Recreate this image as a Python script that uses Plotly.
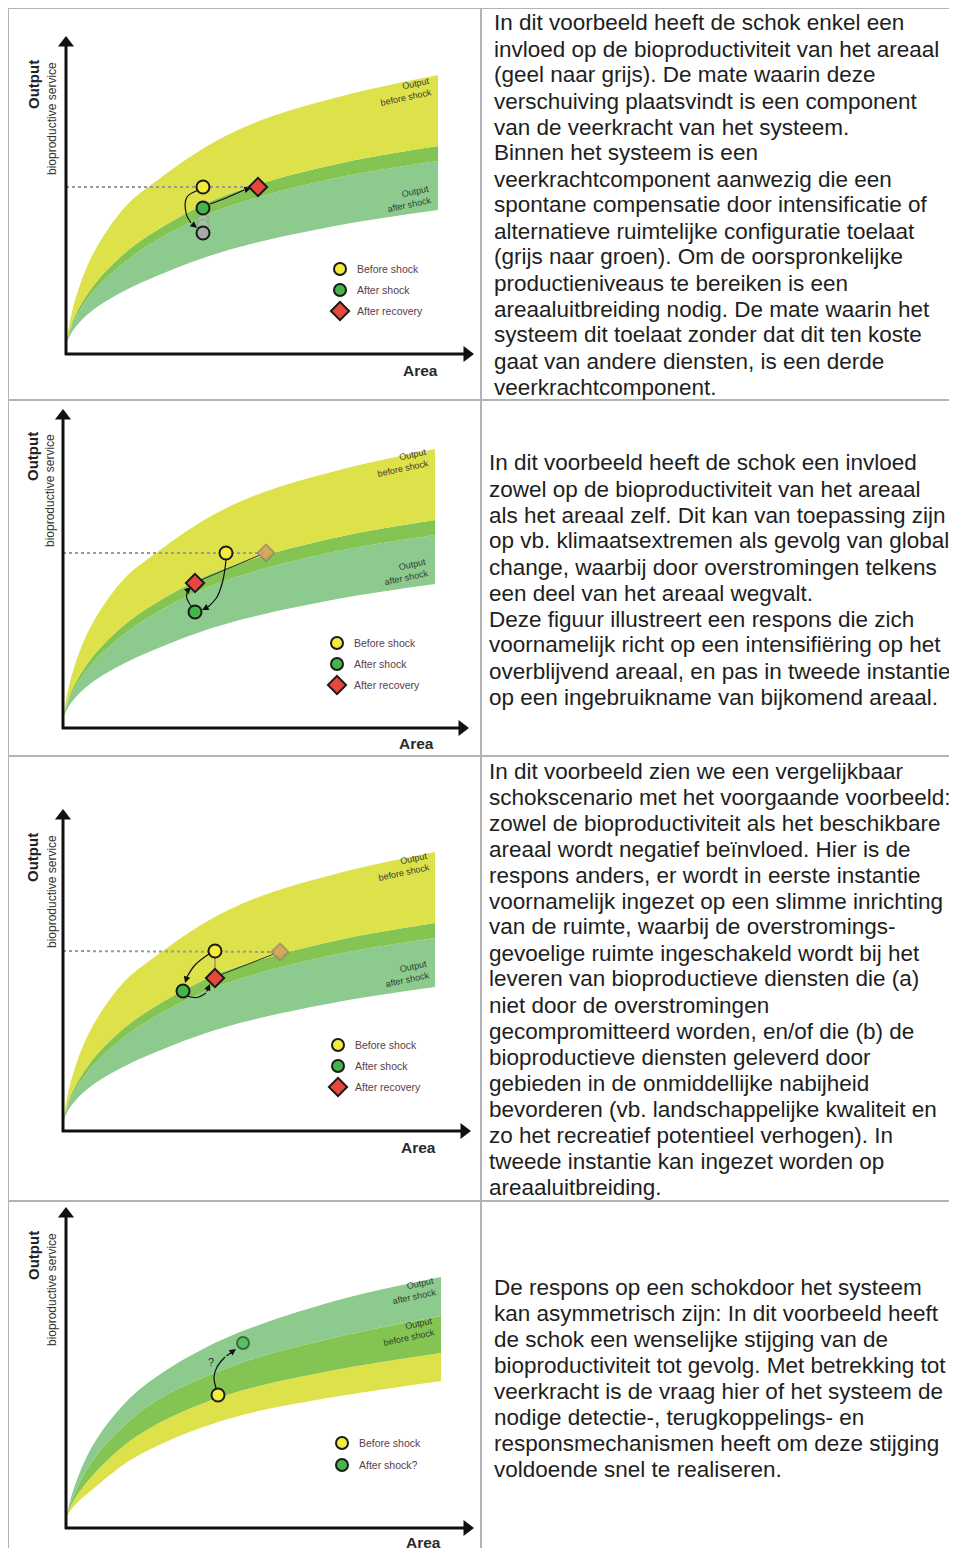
import plotly.graph_objects as go

# page is 957x1548; the html body has an 8px margin, so the figure is drawn
# 8px in from the top-left corner and page pixels are shifted by OFF.
PAGE_W, PAGE_H = 957, 1548
OFF = 8
FW, FH = PAGE_W - OFF, PAGE_H - OFF

# ---------------- data (pixel-like units: Area right of y-axis, Output above x-axis)
AREA_A = [0, 8, 27, 60, 93, 143, 193, 280, 372]          # panels 1-3
A_YELLOW_TOP = [10, 50, 100, 148, 175, 209, 233, 259, 279]
A_YELLOW_BOTTOM = [10, 36, 68, 102, 125, 152, 170, 192, 208]
A_LGREEN_TOP = [10, 33, 62, 93, 115, 140, 157, 178, 193]
A_LGREEN_BOTTOM = [10, 25, 44, 64, 79, 98, 112, 130, 144]

AREA_B = [0, 8, 27, 60, 93, 143, 193, 280, 375]          # panel 4
B_LGREEN_TOP = [10, 40, 83, 126, 153, 182, 203, 230, 251]
B_DGREEN_TOP = [10, 33, 68, 104, 129, 153, 171, 193, 212]
B_YELLOW_TOP = [10, 28, 53, 84, 105, 127, 142, 160, 175]
B_YELLOW_BOTTOM = [10, 22, 39, 65, 83, 103, 117, 133, 147]

# states (Area, Output)
P1_BEFORE, P1_AFTER, P1_GREY, P1_RECOVERY = (137, 167), (137, 146), (137, 121), (192, 167)
P2_BEFORE, P2_AFTER, P2_RECOVERY, P2_TARGET = (163, 175), (132, 116), (132, 145), (203, 175)
P3_BEFORE, P3_AFTER, P3_RECOVERY, P3_TARGET = (152, 180), (120, 140), (152, 153), (217, 179)
P4_BEFORE, P4_AFTER = (152, 133), (177, 185)

LEGEND_3 = ["Before shock", "After shock", "After recovery"]
LEGEND_2 = ["Before shock", "After shock?"]

TEXT_1 = [
    "In dit voorbeeld heeft de schok enkel een",
    "invloed op de bioproductiviteit van het areaal",
    "(geel naar grijs). De mate waarin deze",
    "verschuiving plaatsvindt is een component",
    "van de veerkracht van het systeem.",
    "Binnen het systeem is een",
    "veerkrachtcomponent aanwezig die een",
    "spontane compensatie door intensificatie of",
    "alternatieve ruimtelijke configuratie toelaat",
    "(grijs naar groen). Om de oorspronkelijke",
    "productieniveaus te bereiken is een",
    "areaaluitbreiding nodig. De mate waarin het",
    "systeem dit toelaat zonder dat dit ten koste",
    "gaat van andere diensten, is een derde",
    "veerkrachtcomponent.",
]
TEXT_2 = [
    "In dit voorbeeld heeft de schok een invloed",
    "zowel op de bioproductiviteit van het areaal",
    "als het areaal zelf. Dit kan van toepassing zijn",
    "op vb. klimaatsextremen als gevolg van global",
    "change, waarbij door overstromingen telkens",
    "een deel van het areaal wegvalt.",
    "Deze figuur illustreert een respons die zich",
    "voornamelijk richt op een intensifiëring op het",
    "overblijvend areaal, en pas in tweede instantie",
    "op een ingebruikname van bijkomend areaal.",
]
TEXT_3 = [
    "In dit voorbeeld zien we een vergelijkbaar",
    "schokscenario met het voorgaande voorbeeld:",
    "zowel de bioproductiviteit als het beschikbare",
    "areaal wordt negatief beïnvloed. Hier is de",
    "respons anders, er wordt in eerste instantie",
    "voornamelijk ingezet op een slimme inrichting",
    "van de ruimte, waarbij de overstromings-",
    "gevoelige ruimte ingeschakeld wordt bij het",
    "leveren van bioproductieve diensten die (a)",
    "niet door de overstromingen",
    "gecompromitteerd worden, en/of die (b) de",
    "bioproductieve diensten geleverd door",
    "gebieden in de onmiddellijke nabijheid",
    "bevorderen (vb. landschappelijke kwaliteit en",
    "zo het recreatief potentieel verhogen). In",
    "tweede instantie kan ingezet worden op",
    "areaaluitbreiding.",
]
TEXT_4 = [
    "De respons op een schokdoor het systeem",
    "kan asymmetrisch zijn: In dit voorbeeld heeft",
    "de schok een wenselijke stijging van de",
    "bioproductiviteit tot gevolg. Met betrekking tot",
    "veerkracht is de vraag hier of het systeem de",
    "nodige detectie-, terugkoppelings- en",
    "responsmechanismen heeft om deze stijging",
    "voldoende snel te realiseren.",
]

# ---------------- layout geometry (page pixels)
ORIGIN_X = [66, 63, 63, 66]
ORIGIN_Y = [354, 728, 1131, 1528]
CELL_TOP = [9, 401, 757, 1202]
CELL_BOTTOM = [399, 755, 1200, 1548]
Y_TIP = [317, 318, 321, 320]
X_TIP = [407, 405, 407, 407]
TEXT_X = [494, 489, 489, 494]
TEXT_FIRST = [23, 463, 771, 1287]
LINE_H = 26


def px(x):
    return (x - OFF) / FW


def py(y):
    return 1 - (y - OFF) / FH


YELLOW = "#dde24b"
DGREEN = "#84c452"
LGREEN = "#8cca8e"
FONT = "Liberation Sans, Arial, sans-serif"

fig = go.Figure()
annotations = []
shapes = []


def ax_names(i):
    n = "" if i == 0 else str(i + 1)
    return "x" + n, "y" + n


def band_traces(i, xs, boundaries):
    xa, ya = ax_names(i)
    first = True
    for ys, col in boundaries:
        fig.add_trace(go.Scatter(
            x=xs, y=ys, xaxis=xa, yaxis=ya, mode="lines",
            line=dict(width=0, shape="spline", smoothing=1.0),
            fill=None if first else "tonexty", fillcolor=col,
            hoverinfo="skip", showlegend=False))
        first = False


def path(i, pts, color="#111", width=1.2, head=True, dash=None):
    xa, ya = ax_names(i)
    body = pts[:-1] if head else pts
    fig.add_trace(go.Scatter(
        x=[p[0] for p in body], y=[p[1] for p in body],
        xaxis=xa, yaxis=ya, mode="lines",
        line=dict(color=color, width=width, shape="spline", dash=dash),
        hoverinfo="skip", showlegend=False))
    if head:
        annotations.append(dict(
            x=pts[-1][0], y=pts[-1][1], ax=pts[-2][0], ay=pts[-2][1],
            xref=xa, yref=ya, axref=xa, ayref=ya, text="", showarrow=True,
            arrowhead=2, arrowsize=1.1, arrowwidth=width, arrowcolor=color))


def markers(i, pts, symbol, fill, line="#1a1a1a", size=13, opacity=1.0):
    xa, ya = ax_names(i)
    fig.add_trace(go.Scatter(
        x=[p[0] for p in pts], y=[p[1] for p in pts], xaxis=xa, yaxis=ya,
        mode="markers", opacity=opacity,
        marker=dict(symbol=symbol, size=size, color=fill, line=dict(color=line, width=2)),
        hoverinfo="skip", showlegend=False))


def text(i, x, y, s, size, color="#222", angle=0, xanchor="center", align="center"):
    xa, ya = ax_names(i)
    annotations.append(dict(x=x, y=y, xref=xa, yref=ya, text=s, showarrow=False,
                            font=dict(family=FONT, size=size, color=color),
                            textangle=angle, xanchor=xanchor, yanchor="middle", align=align))


def axes_arrows(i):
    xa, ya = ax_names(i)
    fig.add_trace(go.Scatter(x=[0, 0], y=[-1, Y_TIP[i] - 8], xaxis=xa, yaxis=ya, mode="lines",
                             line=dict(color="#111", width=3), hoverinfo="skip", showlegend=False))
    fig.add_trace(go.Scatter(x=[-1, X_TIP[i] - 8], y=[0, 0], xaxis=xa, yaxis=ya, mode="lines",
                             line=dict(color="#111", width=3), hoverinfo="skip", showlegend=False))
    fig.add_trace(go.Scatter(x=[0], y=[Y_TIP[i] - 6], xaxis=xa, yaxis=ya, mode="markers",
                             marker=dict(symbol="triangle-up", size=14, color="#111"),
                             hoverinfo="skip", showlegend=False))
    fig.add_trace(go.Scatter(x=[X_TIP[i] - 6], y=[0], xaxis=xa, yaxis=ya, mode="markers",
                             marker=dict(symbol="triangle-right", size=14, color="#111"),
                             hoverinfo="skip", showlegend=False))


OUT_Y = [269, 271, 273, 272]
OUT_X = [-33, -31, -31, -33]
BIO_Y = [235, 237, 239, 238]
BIO_X = [-14, -13, -11, -14]
AREA_LBL = [(354, -16), (353, -15), (355, -16), (357, -14)]


def common(i):
    axes_arrows(i)
    text(i, OUT_X[i], OUT_Y[i], "<b>Output</b>", 15, "#222", -90)
    text(i, BIO_X[i], BIO_Y[i], "bioproductive service", 12, "#333", -90)
    text(i, AREA_LBL[i][0], AREA_LBL[i][1], "<b>Area</b>", 15.5, "#2a2a2a")


def legend(i, labels, x, ys):
    syms = [("circle", "#f4ec3c"), ("circle", "#45b44a"), ("diamond", "#e8483b")]
    for k, lab in enumerate(labels):
        markers(i, [(x, ys[k])], syms[k][0], syms[k][1], size=12 if syms[k][0] == "circle" else 14)
        text(i, x + 15, ys[k], lab, 10.5, "#5a3d4a", xanchor="left", align="left")


LBL_SIZE = 9

# ---------- panel 1
band_traces(0, AREA_A, [(A_LGREEN_BOTTOM, None), (A_LGREEN_TOP, LGREEN),
                        (A_YELLOW_BOTTOM, DGREEN), (A_YELLOW_TOP, YELLOW)])
path(0, [(0, P1_BEFORE[1]), P1_RECOVERY], color="#9a9a9a", width=2, head=False, dash="dot")
path(0, [(133, 164), (121, 157), (120, 141), (125, 131), (131, 126)])
path(0, [(144, 150), (160, 156), (178, 164), (185, 166)])
markers(0, [(137, 134), (137, 129)], "circle", "#bdbdbd", line="#999", size=11, opacity=0.5)
markers(0, [P1_GREY], "circle", "#a9a9a9")
markers(0, [P1_AFTER], "circle", "#45b44a")
markers(0, [P1_BEFORE], "circle", "#f4ec3c")
markers(0, [P1_RECOVERY], "diamond", "#e8483b", size=14)
text(0, 369, 262, "Output<br>before shock", LBL_SIZE, "#3b3b2b", -12, "right", "right")
text(0, 369, 155, "Output<br>after shock", LBL_SIZE, "#2f3f2f", -12, "right", "right")
legend(0, LEGEND_3, 274, [85, 64, 43])
common(0)

# ---------- panel 2
band_traces(1, AREA_A, [(A_LGREEN_BOTTOM, None), (A_LGREEN_TOP, LGREEN),
                        (A_YELLOW_BOTTOM, DGREEN), (A_YELLOW_TOP, YELLOW)])
path(1, [(0, P2_BEFORE[1]), P2_TARGET], color="#9a9a9a", width=2, head=False, dash="dot")
path(1, [(138, 148), (197, 173)], color="#333", width=1, head=False)
path(1, [(163, 168), (160, 148), (154, 131), (145, 121), (139, 118)])
path(1, [(128, 122), (123.5, 131), (125, 138), (128, 141)])
markers(1, [P2_TARGET], "diamond", "#d9a158", line="#9a8a70", size=13, opacity=0.85)
markers(1, [P2_AFTER], "circle", "#45b44a")
markers(1, [P2_RECOVERY], "diamond", "#e8483b", size=14)
markers(1, [P2_BEFORE], "circle", "#f4ec3c")
text(1, 369, 265, "Output<br>before shock", LBL_SIZE, "#3b3b2b", -12, "right", "right")
text(1, 369, 156, "Output<br>after shock", LBL_SIZE, "#2f3f2f", -12, "right", "right")
legend(1, LEGEND_3, 274, [85, 64, 43])
common(1)

# ---------- panel 3
band_traces(2, AREA_A, [(A_LGREEN_BOTTOM, None), (A_LGREEN_TOP, LGREEN),
                        (A_YELLOW_BOTTOM, DGREEN), (A_YELLOW_TOP, YELLOW)])
path(2, [(0, P3_BEFORE[1]), P3_TARGET], color="#9a9a9a", width=2, head=False, dash="dot")
path(2, [(157, 156), (211, 177)], color="#333", width=1, head=False)
path(2, [(152, 173), (152, 160)], color="#777", width=1, head=False)
path(2, [(146, 177), (132, 166), (124, 154), (122, 148)])
path(2, [(124, 135), (134, 133.5), (143, 138), (147, 147)])
markers(2, [P3_TARGET], "diamond", "#d9a158", line="#9a8a70", size=13, opacity=0.85)
markers(2, [P3_AFTER], "circle", "#45b44a")
markers(2, [P3_RECOVERY], "diamond", "#e8483b", size=14)
markers(2, [P3_BEFORE], "circle", "#f4ec3c")
text(2, 370, 264, "Output<br>before shock", LBL_SIZE, "#3b3b2b", -12, "right", "right")
text(2, 370, 157, "Output<br>after shock", LBL_SIZE, "#2f3f2f", -12, "right", "right")
legend(2, LEGEND_3, 275, [86, 65, 44])
common(2)

# ---------- panel 4
band_traces(3, AREA_B, [(B_YELLOW_BOTTOM, None), (B_YELLOW_TOP, YELLOW),
                        (B_DGREEN_TOP, DGREEN), (B_LGREEN_TOP, LGREEN)])
path(3, [(150, 140), (148, 151), (151, 161), (159, 171), (170, 179)])
text(3, 145, 166, "?", 11, "#333")
markers(3, [P4_AFTER], "circle", "#5cbf63", line="#3d6b3f", size=12)
markers(3, [P4_BEFORE], "circle", "#f4ec3c")
text(3, 374, 237, "Output<br>after shock", LBL_SIZE, "#2f3f2f", -12, "right", "right")
text(3, 372, 196, "Output<br>before shock", LBL_SIZE, "#2f3f2f", -12, "right", "right")
legend(3, LEGEND_2, 276, [85, 63])
common(3)

# ---------- axes (one pair per diagram, 1 unit = 1 px)
layout_axes = {}
for i in range(4):
    n = "" if i == 0 else str(i + 1)
    ox, oy = ORIGIN_X[i], ORIGIN_Y[i]
    layout_axes["xaxis" + n] = dict(domain=[px(8), px(480)], range=[8 - ox, 480 - ox],
                                    visible=False, fixedrange=True)
    layout_axes["yaxis" + n] = dict(domain=[max(0.0, py(CELL_BOTTOM[i])), py(CELL_TOP[i])],
                                    range=[oy - CELL_BOTTOM[i], oy - CELL_TOP[i]],
                                    visible=False, fixedrange=True)

# ---------- text column (one annotation per line, 26px line pitch)
for i, lines in enumerate([TEXT_1, TEXT_2, TEXT_3, TEXT_4]):
    for k, line in enumerate(lines):
        annotations.append(dict(x=px(TEXT_X[i] - 2), y=py(TEXT_FIRST[i] + k * LINE_H),
                                xref="paper", yref="paper", text=line, showarrow=False,
                                xanchor="left", yanchor="middle", align="left",
                                font=dict(family=FONT, size=22.5, color="#1e1e1e")))

# ---------- table grid
GRID = "#b3b3b3"
for yy in [8, 400, 756, 1201]:
    shapes.append(dict(type="line", xref="paper", yref="paper", x0=px(7), x1=1,
                       y0=py(yy), y1=py(yy), line=dict(color=GRID, width=2)))
for xx in [8, 481]:
    shapes.append(dict(type="line", xref="paper", yref="paper", x0=px(xx), x1=px(xx),
                       y0=py(8), y1=0, line=dict(color=GRID, width=2)))

fig.update_layout(width=FW, height=FH, margin=dict(l=0, r=0, t=0, b=0),
                  paper_bgcolor="white", plot_bgcolor="rgba(0,0,0,0)",
                  showlegend=False, annotations=annotations, shapes=shapes, **layout_axes)
fig.write_html("out.html", config={"displayModeBar": False})
